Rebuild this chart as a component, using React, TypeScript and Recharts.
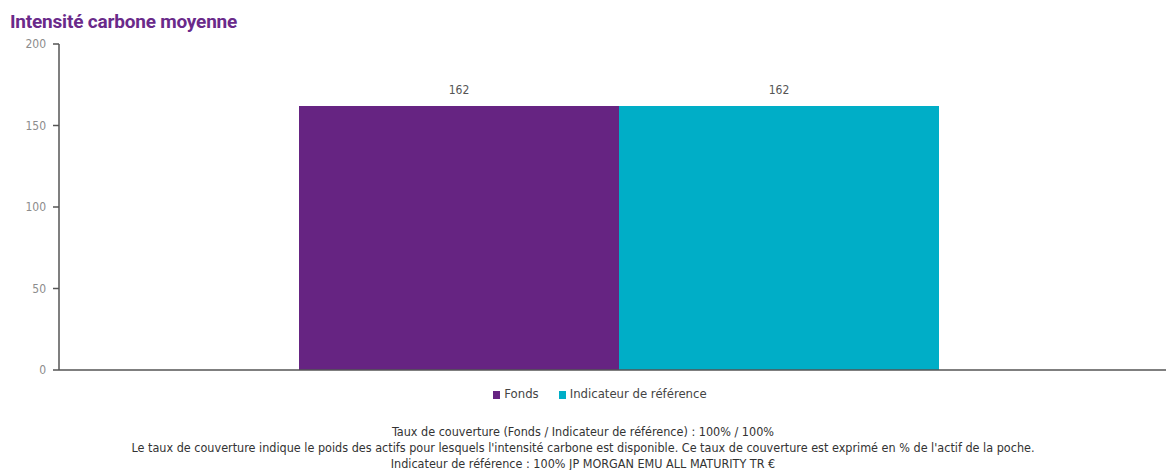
import { Bar, BarChart, LabelList, Legend, XAxis, YAxis } from "recharts";

const categories = [""];
const fondsValues = [162];
const indicateurValues = [162];
const yTicks = [0, 50, 100, 150, 200];
const footerLines = [
  "Taux de couverture (Fonds / Indicateur de référence) : 100% / 100%",
  "Le taux de couverture indique le poids des actifs pour lesquels l'intensité carbone est disponible. Ce taux de couverture est exprimé en % de l'actif de la poche.",
  "Indicateur de référence : 100% JP MORGAN EMU ALL MATURITY TR €",
];

const data = categories.map((c, i) => ({ name: c, fonds: fondsValues[i], indicateur: indicateurValues[i] }));

const narrow = "'Liberation Sans Narrow', 'DejaVu Sans Condensed', Roboto, sans-serif";

function LegendContent(props: any) {
  const items = props.payload || [];
  return (
    <div style={{ display: "flex", justifyContent: "center", paddingLeft: 34, fontFamily: narrow, fontSize: 13, color: "#444" }}>
      {items.map((it: any, i: number) => (
        <div key={it.value} style={{ display: "flex", alignItems: "center", marginLeft: i ? 20 : 0 }}>
          <span style={{ display: "inline-block", width: 7, height: 8, background: it.color, marginRight: 4, marginTop: 3 }} />
          <span>{it.value}</span>
        </div>
      ))}
    </div>
  );
}

export default function App() {
  return (
    <div style={{ position: "absolute", left: 0, top: 0, width: 1166, height: 470, background: "#fff", overflow: "hidden" }}>
      <div style={{ position: "absolute", left: 10, top: 10, fontFamily: "Roboto, sans-serif", fontWeight: 700,
                    fontSize: 19, color: "#6a2a8a", letterSpacing: -0.2 }}>
        Intensité carbone moyenne
      </div>
      <div style={{ position: "absolute", left: 0, top: 0 }}>
        <BarChart width={1166} height={426} data={data} barGap={0}
                  margin={{ top: 44, right: -13, left: 0, bottom: 40 }}
                  style={{ fontFamily: narrow }}>
          <XAxis dataKey="name" tick={false} tickLine={false} height={1}
                 axisLine={{ stroke: "#555", strokeWidth: 1.5 }} />
          <YAxis domain={[0, 200]} ticks={yTicks} width={59} interval={0}
                 tick={{ fill: "#8c8c8c", fontSize: 12 }} tickSize={6} tickMargin={7}
                 tickLine={{ stroke: "#555", strokeWidth: 1.5 }}
                 axisLine={{ stroke: "#555", strokeWidth: 1.5 }} />
          <Legend content={<LegendContent />}
                  wrapperStyle={{ top: 386, left: 0, width: 1166 }} />
          <Bar dataKey="fonds" name="Fonds" fill="#662482" barSize={320} isAnimationActive={false}>
            <LabelList dataKey="fonds" position="top" offset={12} fill="#555" fontSize={12} />
          </Bar>
          <Bar dataKey="indicateur" name="Indicateur de référence" fill="#00aec7" barSize={320} isAnimationActive={false}>
            <LabelList dataKey="indicateur" position="top" offset={12} fill="#555" fontSize={12} />
          </Bar>
        </BarChart>
      </div>
      <div style={{ position: "absolute", left: 0, top: 424, width: 1166, textAlign: "center",
                    fontFamily: narrow, fontSize: 12.5, lineHeight: "16px", color: "#333" }}>
        {footerLines.map((l) => <div key={l}>{l}</div>)}
      </div>
    </div>
  );
}
